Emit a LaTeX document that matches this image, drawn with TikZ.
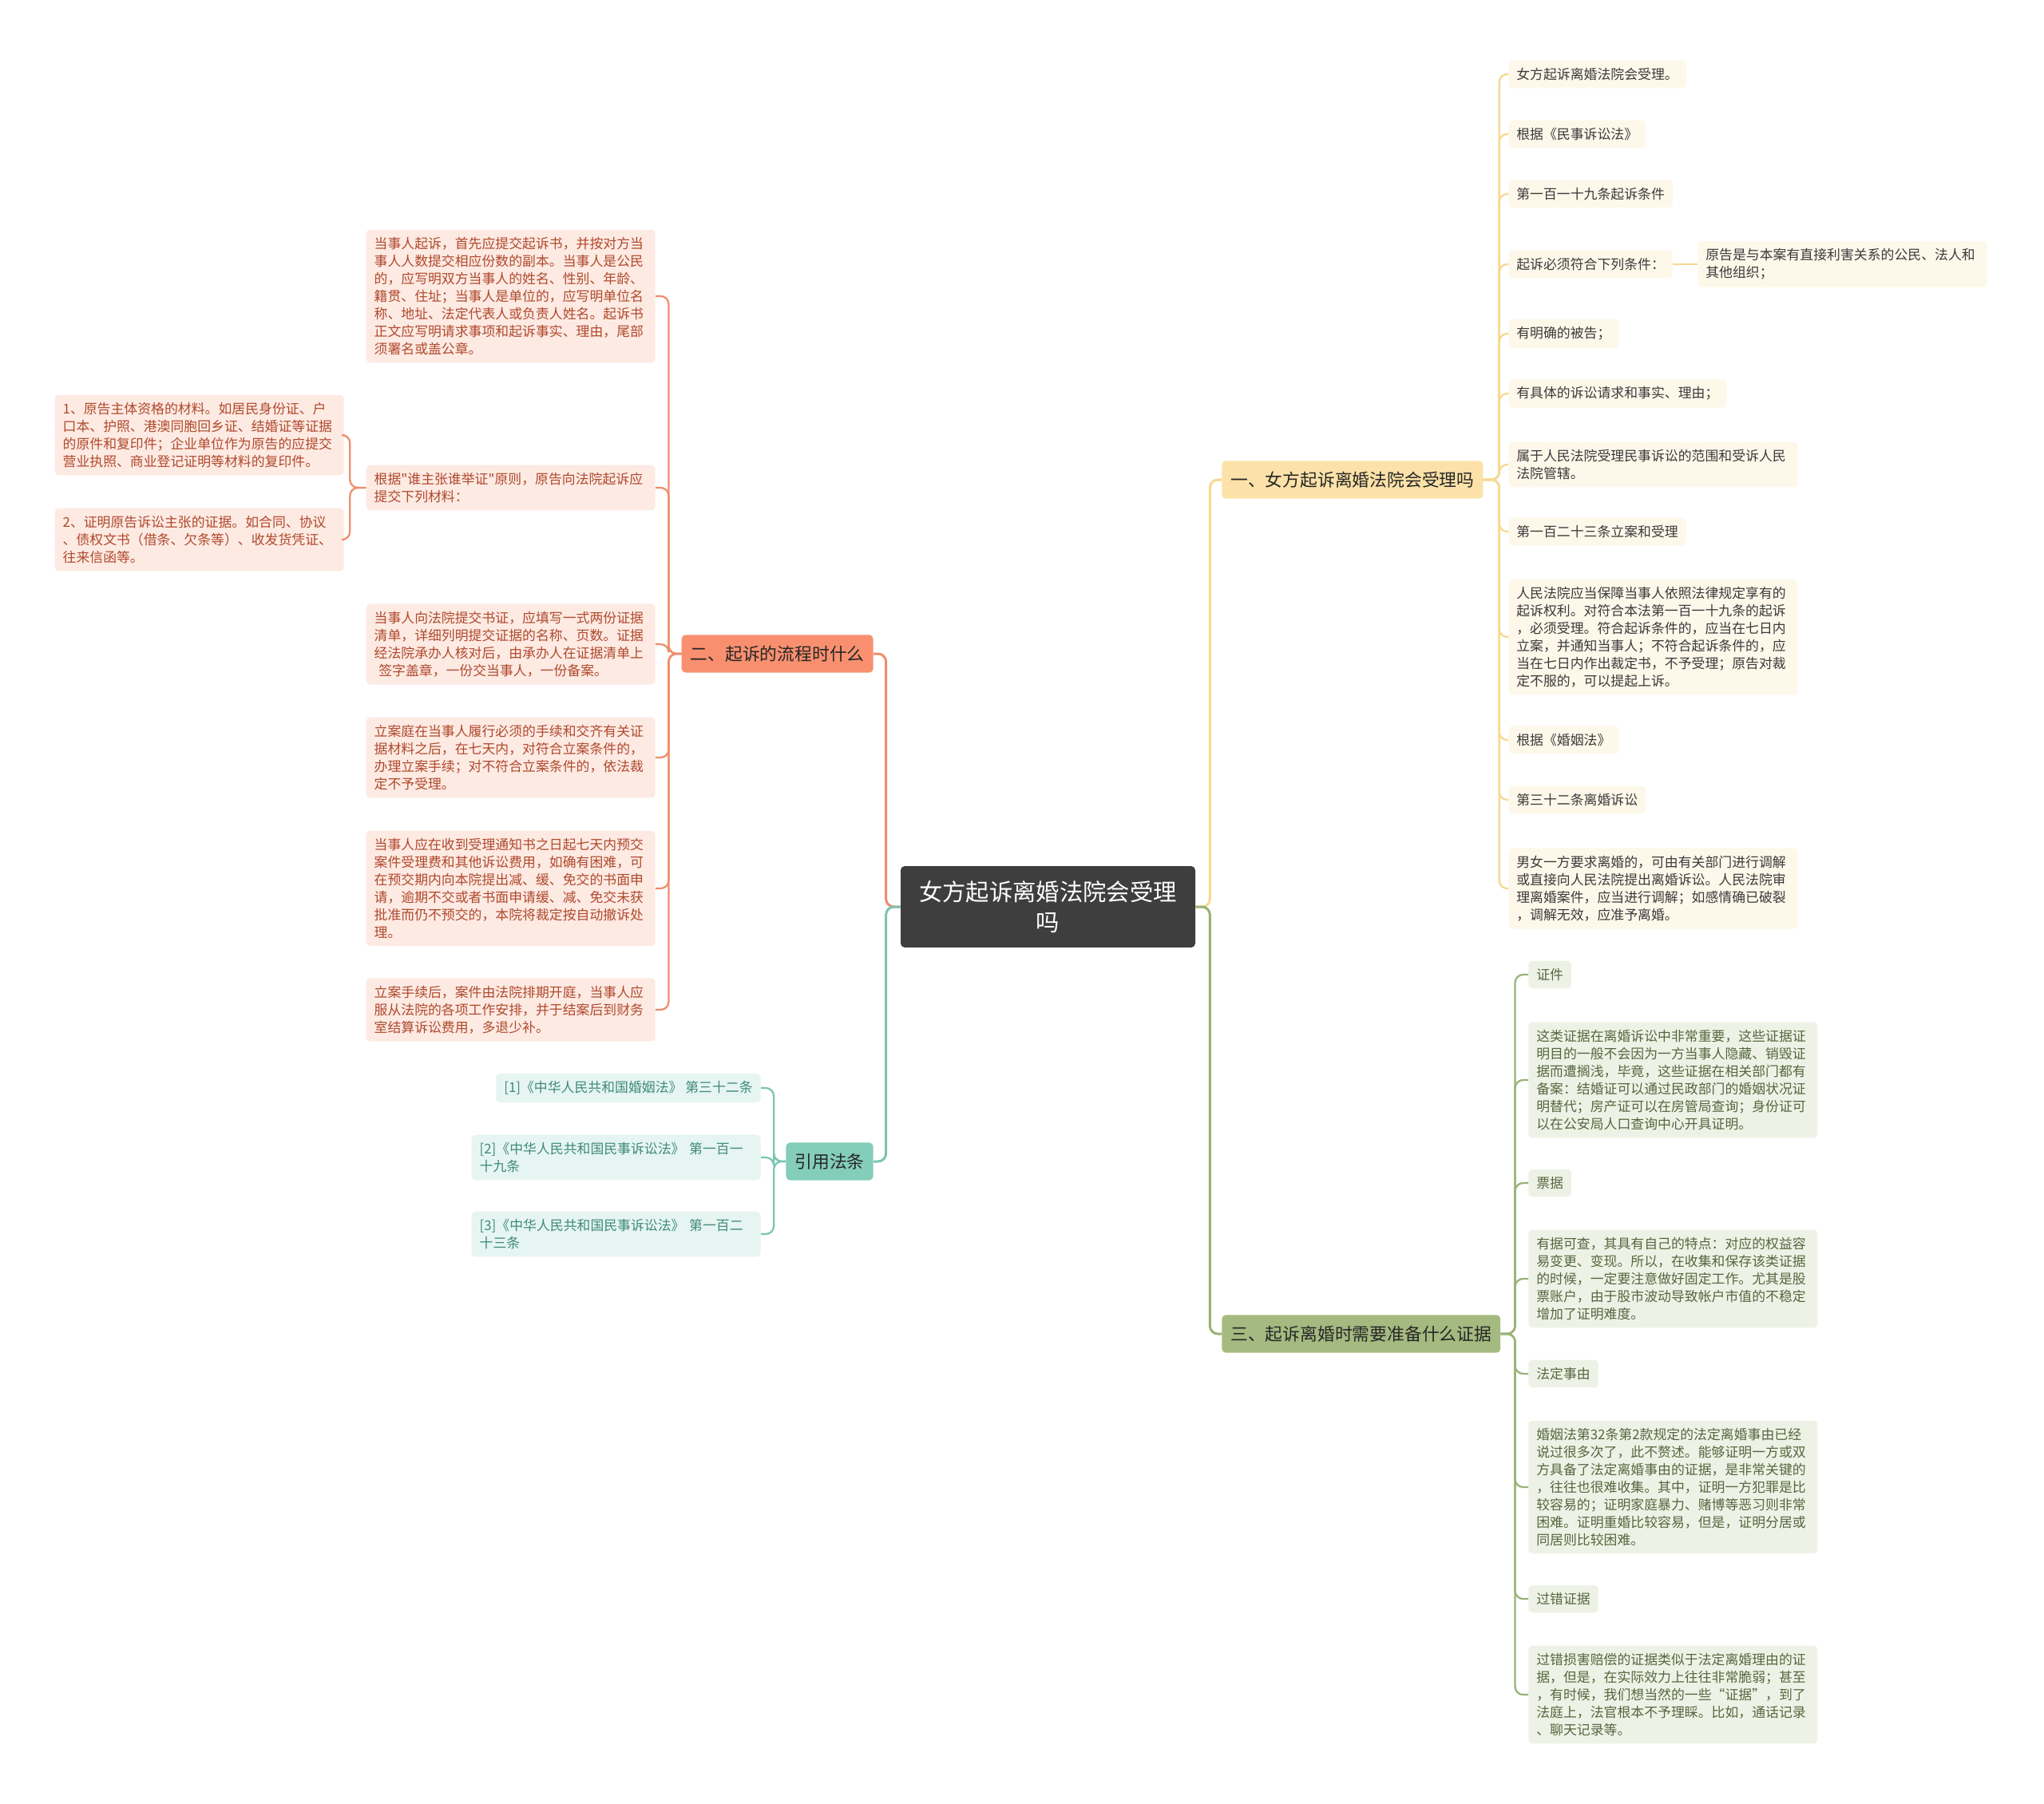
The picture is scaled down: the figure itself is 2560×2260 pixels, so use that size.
\documentclass[tikz,border=0pt]{standalone}
\usepackage{fontspec}
\usepackage{tikz}
\usetikzlibrary{positioning}
\newfontfamily\cjk{Noto Sans CJK SC}

\definecolor{rootbg}{HTML}{3E3E3E}
\definecolor{ymain}{HTML}{FCE2A8}
\definecolor{ylink}{HTML}{F6D88F}
\definecolor{ybg}{HTML}{FEF8EA}
\definecolor{ytext}{HTML}{3A3A3A}
\definecolor{omain}{HTML}{F8906F}
\definecolor{olink}{HTML}{EE8E6C}
\definecolor{obg}{HTML}{FDEAE3}
\definecolor{otext}{HTML}{B0492C}
\definecolor{tmain}{HTML}{83CDB9}
\definecolor{tlink}{HTML}{7BC5B1}
\definecolor{tbg}{HTML}{E6F5F1}
\definecolor{ttext}{HTML}{3E8B77}
\definecolor{gmain}{HTML}{A4BA80}
\definecolor{glink}{HTML}{9AB276}
\definecolor{gbg}{HTML}{EEF2E6}
\definecolor{gtext}{HTML}{55663F}

\begin{document}
\begin{tikzpicture}[x=0.2mm, y=-0.2mm,
    root/.style={fill=rootbg, text=white, rounded corners=1mm, inner xsep=4.6mm, inner ysep=3.6mm,
      text width=64.6mm, align=center, font=\cjk\fontsize{16.7pt}{22pt}\selectfont},
    branch/.style={rounded corners=1mm, inner xsep=2.2mm, inner ysep=2.7mm, text=black!85,
      font=\cjk\fontsize{12.4pt}{15pt}\selectfont},
    leaf/.style={rounded corners=1mm, inner xsep=2mm, inner ysep=1.9mm, align=left,
      font=\cjk\fontsize{9.6pt}{12.5pt}\selectfont},
    wide/.style={leaf, text width=68.4mm},
    yleaf/.style={fill=ybg, text=ytext},
    oleaf/.style={fill=obg, text=otext},
    tleaf/.style={fill=tbg, text=ttext},
    gleaf/.style={fill=gbg, text=gtext},
    mlk/.style={line width=0.6mm, rounded corners=2mm},
    llk/.style={line width=0.45mm, rounded corners=2mm}]
    \useasboundingbox[fill=white] (0,0) rectangle (2560,2260);

    % Centre and main branches
    \node[root] (root) at (1312.5,1136) {女方起诉离婚法院会受理\\吗};
    \node[branch, fill=ymain, anchor=west] (b1) at (1530,601) {一、女方起诉离婚法院会受理吗};
    \node[branch, fill=omain, anchor=east] (b2) at (1094,819) {二、起诉的流程时什么};
    \node[branch, fill=gmain, anchor=west] (b3) at (1530,1671) {三、起诉离婚时需要准备什么证据};
    \node[branch, fill=tmain, anchor=east] (b4) at (1094,1455) {引用法条};

    \draw[mlk, draw=olink] (root.west) -- ++(-18,0) |- (b2.east);
    \draw[mlk, draw=tlink] (root.west) -- ++(-18,0) |- (b4.east);
    \draw[mlk, draw=ylink] (root.east) -- ++(18,0) |- (b1.west);
    \draw[mlk, draw=glink] (root.east) -- ++(18,0) |- (b3.west);

    % Branch one
    \node[leaf, yleaf, anchor=west] (y1) at (1889,93) {女方起诉离婚法院会受理。};
    \node[leaf, yleaf, anchor=west] (y2) at (1889,168) {根据《民事诉讼法》};
    \node[leaf, yleaf, anchor=west] (y3) at (1889,243) {第一百一十九条起诉条件};
    \node[leaf, yleaf, anchor=west] (y4) at (1889,331) {起诉必须符合下列条件：};
    \node[wide, yleaf, anchor=west] (y4a) at (2126,331) {原告是与本案有直接利害关系的公民、法人和\\其他组织；};
    \node[leaf, yleaf, anchor=west] (y5) at (1889,418) {有明确的被告；};
    \node[leaf, yleaf, anchor=west] (y6) at (1889,493) {有具体的诉讼请求和事实、理由；};
    \node[wide, yleaf, anchor=west] (y7) at (1889,582) {属于人民法院受理民事诉讼的范围和受诉人民\\法院管辖。};
    \node[leaf, yleaf, anchor=west] (y8) at (1889,666) {第一百二十三条立案和受理};
    \node[wide, yleaf, anchor=west] (y9) at (1889,798) {人民法院应当保障当事人依照法律规定享有的\\起诉权利。对符合本法第一百一十九条的起诉\\，必须受理。符合起诉条件的，应当在七日内\\立案，并通知当事人；不符合起诉条件的，应\\当在七日内作出裁定书，不予受理；原告对裁\\定不服的，可以提起上诉。};
    \node[leaf, yleaf, anchor=west] (y10) at (1889,927) {根据《婚姻法》};
    \node[leaf, yleaf, anchor=west] (y11) at (1889,1002) {第三十二条离婚诉讼};
    \node[wide, yleaf, anchor=west] (y12) at (1889,1113) {男女一方要求离婚的，可由有关部门进行调解\\或直接向人民法院提出离婚诉讼。人民法院审\\理离婚案件，应当进行调解；如感情确已破裂\\，调解无效，应准予离婚。};

    \foreach \n in {y1,y2,y3,y4,y5,y6,y7,y8,y9,y10,y11,y12}
        \draw[llk, draw=ylink] (b1.east) -- ++(20,0) |- (\n.west);
    \draw[llk, draw=ylink] (y4.east) -- (y4a.west);

    % Branch two
    \node[wide, oleaf, anchor=east] (o1) at (821,371) {当事人起诉，首先应提交起诉书，并按对方当\\事人人数提交相应份数的副本。当事人是公民\\的，应写明双方当事人的姓名、性别、年龄、\\籍贯、住址；当事人是单位的，应写明单位名\\称、地址、法定代表人或负责人姓名。起诉书\\正文应写明请求事项和起诉事实、理由，尾部\\须署名或盖公章。};
    \node[wide, oleaf, anchor=east] (o2) at (821,611) {根据"谁主张谁举证"原则，原告向法院起诉应\\提交下列材料：};
    \node[wide, oleaf, anchor=east] (o2a) at (431,545) {1、原告主体资格的材料。如居民身份证、户\\口本、护照、港澳同胞回乡证、结婚证等证据\\的原件和复印件；企业单位作为原告的应提交\\营业执照、商业登记证明等材料的复印件。};
    \node[wide, oleaf, anchor=east] (o2b) at (431,676) {2、证明原告诉讼主张的证据。如合同、协议\\、债权文书（借条、欠条等）、收发货凭证、\\往来信函等。};
    \node[wide, oleaf, anchor=east] (o3) at (821,807) {当事人向法院提交书证，应填写一式两份证据\\清单，详细列明提交证据的名称、页数。证据\\经法院承办人核对后，由承办人在证据清单上\\\ 签字盖章，一份交当事人，一份备案。};
    \node[wide, oleaf, anchor=east] (o4) at (821,949) {立案庭在当事人履行必须的手续和交齐有关证\\据材料之后，在七天内，对符合立案条件的，\\办理立案手续；对不符合立案条件的，依法裁\\定不予受理。};
    \node[wide, oleaf, anchor=east] (o5) at (821,1113) {当事人应在收到受理通知书之日起七天内预交\\案件受理费和其他诉讼费用，如确有困难，可\\在预交期内向本院提出减、缓、免交的书面申\\请，逾期不交或者书面申请缓、减、免交未获\\批准而仍不预交的，本院将裁定按自动撤诉处\\理。};
    \node[wide, oleaf, anchor=east] (o6) at (821,1265) {立案手续后，案件由法院排期开庭，当事人应\\服从法院的各项工作安排，并于结案后到财务\\室结算诉讼费用，多退少补。};

    \foreach \n in {o1,o2,o3,o4,o5,o6}
        \draw[llk, draw=olink] (b2.west) -- ++(-16,0) |- (\n.east);
    \foreach \n in {o2a,o2b}
        \draw[llk, draw=olink] (o2.west) -- ++(-20,0) |- (\n.east);

    % Cited articles
    \node[leaf, tleaf, anchor=east] (t1) at (953,1363) {[1]《中华人民共和国婚姻法》 第三十二条};
    \node[wide, tleaf, anchor=east] (t2) at (953,1450) {[2]《中华人民共和国民事诉讼法》 第一百一\\十九条};
    \node[wide, tleaf, anchor=east] (t3) at (953,1546) {[3]《中华人民共和国民事诉讼法》 第一百二\\十三条};

    \foreach \n in {t1,t2,t3}
        \draw[llk, draw=tlink] (b4.west) -- ++(-15,0) |- (\n.east);

    % Branch three
    \node[leaf, gleaf, anchor=west] (g1) at (1914,1221) {证件};
    \node[wide, gleaf, anchor=west] (g2) at (1914,1353) {这类证据在离婚诉讼中非常重要，这些证据证\\明目的一般不会因为一方当事人隐藏、销毁证\\据而遭搁浅，毕竟，这些证据在相关部门都有\\备案：结婚证可以通过民政部门的婚姻状况证\\明替代；房产证可以在房管局查询；身份证可\\以在公安局人口查询中心开具证明。};
    \node[leaf, gleaf, anchor=west] (g3) at (1914,1482) {票据};
    \node[wide, gleaf, anchor=west] (g4) at (1914,1602) {有据可查，其具有自己的特点：对应的权益容\\易变更、变现。所以，在收集和保存该类证据\\的时候，一定要注意做好固定工作。尤其是股\\票账户，由于股市波动导致帐户市值的不稳定\\增加了证明难度。};
    \node[leaf, gleaf, anchor=west] (g5) at (1914,1721) {法定事由};
    \node[wide, gleaf, anchor=west] (g6) at (1914,1863) {婚姻法第32条第2款规定的法定离婚事由已经\\说过很多次了，此不赘述。能够证明一方或双\\方具备了法定离婚事由的证据，是非常关键的\\，往往也很难收集。其中，证明一方犯罪是比\\较容易的；证明家庭暴力、赌博等恶习则非常\\困难。证明重婚比较容易，但是，证明分居或\\同居则比较困难。};
    \node[leaf, gleaf, anchor=west] (g7) at (1914,2003) {过错证据};
    \node[wide, gleaf, anchor=west] (g8) at (1914,2123) {过错损害赔偿的证据类似于法定离婚理由的证\\据，但是，在实际效力上往往非常脆弱；甚至\\，有时候，我们想当然的一些“证据”，到了\\法庭上，法官根本不予理睬。比如，通话记录\\、聊天记录等。};

    \foreach \n in {g1,g2,g3,g4,g5,g6,g7,g8}
        \draw[llk, draw=glink] (b3.east) -- ++(18,0) |- (\n.west);
\end{tikzpicture}
\end{document}
